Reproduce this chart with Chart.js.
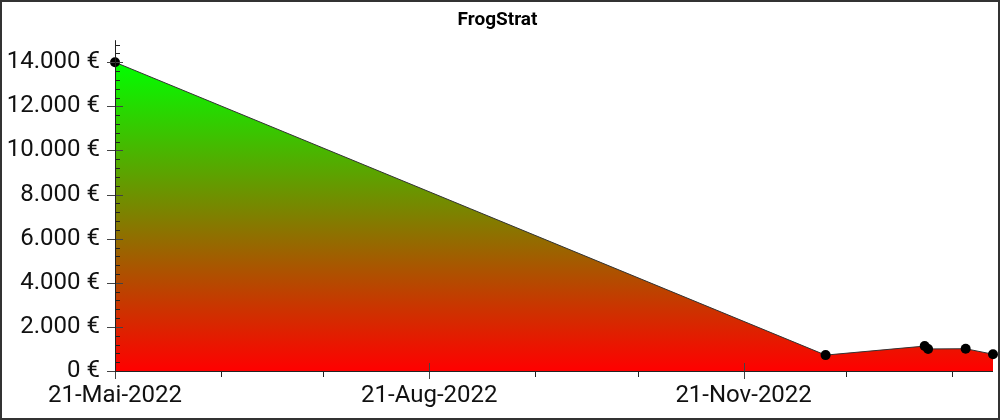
<!DOCTYPE html>
<html>
<head>
<meta charset="utf-8">
<script src="https://cdn.jsdelivr.net/npm/chart.js@4/dist/chart.umd.min.js"></script>
<style>
html, body { margin: 0; padding: 0; background: #fff; }
#wrap { width: 1000px; height: 420px; box-sizing: border-box; border: 2px solid #333; position: relative; }
</style>
</head>
<body>
<div id="wrap"><canvas id="chart"></canvas></div>
<script>
// data
const startDate = '2022-05-21';
const pointDates = ['2022-05-21', '2022-12-15', '2023-01-13', '2023-01-14', '2023-01-25', '2023-02-02'];
const pointValues = [14000, 720, 1130, 1000, 1010, 760];

// x axis ticks
const majorTickDates = ['2022-05-21', '2022-08-21', '2022-11-21'];
const majorTickLabels = ['21-Mai-2022', '21-Aug-2022', '21-Nov-2022'];
const minorTickDates = ['2022-06-21', '2022-07-21', '2022-09-21', '2022-10-21', '2022-12-21', '2023-01-21'];

// y axis ticks
const yMajorTicks = [0, 2000, 4000, 6000, 8000, 10000, 12000, 14000];
const yMax = 15000;
const yMinorStep = 400;

// helpers
const dayOf = d => (Date.parse(d) - Date.parse(startDate)) / 86400000;
const euro = v => String(v).replace(/\B(?=(\d{3})+(?!\d))/g, '.') + ' €';

const points = pointDates.map((d, i) => ({ x: dayOf(d), y: pointValues[i] }));

// axis lines and tick marks, drawn over the fill
const axisTicks = {
  id: 'axisTicks',
  afterDatasetsDraw(chart) {
    const { ctx, chartArea: a, scales: { x, y } } = chart;
    ctx.save();
    ctx.lineWidth = 1;

    // minor ticks
    ctx.strokeStyle = '#222';
    ctx.beginPath();
    for (let v = yMinorStep; v < yMax; v += yMinorStep) {
      if (yMajorTicks.includes(v)) continue;
      const py = Math.round(y.getPixelForValue(v)) + 0.5;
      ctx.moveTo(a.left, py);
      ctx.lineTo(a.left + 5, py);
    }
    minorTickDates.forEach(d => {
      const px = Math.round(x.getPixelForValue(dayOf(d))) + 0.5;
      ctx.moveTo(px, a.bottom + 1);
      ctx.lineTo(px, a.bottom + 6);
    });
    ctx.stroke();

    // major ticks
    ctx.strokeStyle = '#444';
    ctx.beginPath();
    yMajorTicks.forEach(v => {
      const py = Math.round(y.getPixelForValue(v)) + 0.5;
      ctx.moveTo(a.left - 8, py);
      ctx.lineTo(a.left + 8, py);
    });
    majorTickDates.forEach(d => {
      const px = Math.round(x.getPixelForValue(dayOf(d))) + 0.5;
      ctx.moveTo(px, a.bottom - 8);
      ctx.lineTo(px, a.bottom + 8);
    });
    ctx.stroke();

    // axis lines
    ctx.strokeStyle = '#222';
    ctx.beginPath();
    ctx.moveTo(a.left + 0.5, y.getPixelForValue(yMax));
    ctx.lineTo(a.left + 0.5, a.bottom);
    ctx.moveTo(a.left, a.bottom + 0.5);
    ctx.lineTo(a.right, a.bottom + 0.5);
    ctx.stroke();
    ctx.restore();
  }
};

Chart.defaults.font.family = 'Roboto';

new Chart(document.getElementById('chart'), {
  type: 'line',
  data: {
    datasets: [{
      data: points,
      borderColor: '#333',
      borderWidth: 1,
      tension: 0,
      pointRadius: 5,
      pointBorderWidth: 0,
      pointBackgroundColor: '#000',
      clip: false,
      fill: 'origin',
      backgroundColor: ctx => {
        const chart = ctx.chart;
        if (!chart.chartArea) return 'rgba(0,0,0,0)';
        const y = chart.scales.y;
        const g = chart.ctx.createLinearGradient(0, y.getPixelForValue(Math.max(...pointValues)), 0, y.getPixelForValue(0));
        g.addColorStop(0, '#00ff00');
        g.addColorStop(1, '#ff0000');
        return g;
      }
    }]
  },
  options: {
    responsive: true,
    maintainAspectRatio: false,
    animation: false,
    layout: { padding: { left: 0, right: 5, top: 0, bottom: 0 } },
    plugins: {
      legend: { display: false },
      tooltip: { enabled: false },
      title: {
        display: true,
        text: 'FrogStrat',
        color: '#000',
        font: { family: 'Roboto', size: 19, weight: 'bold' },
        padding: { top: 7, bottom: 8.4 }
      }
    },
    scales: {
      x: {
        type: 'linear',
        min: 0,
        max: dayOf(pointDates[pointDates.length - 1]),
        grid: { display: false, drawTicks: false },
        border: { display: false },
        afterBuildTicks: s => { s.ticks = majorTickDates.map(d => ({ value: dayOf(d) })); },
        afterFit: s => { s.height = 47; },
        ticks: {
          autoSkip: false,
          maxRotation: 0,
          padding: 11,
          color: '#111',
          font: { size: 24 },
          callback: v => majorTickLabels[majorTickDates.findIndex(d => dayOf(d) === v)]
        }
      },
      y: {
        min: 0,
        max: yMax,
        grid: { display: false, drawTicks: false },
        border: { display: false },
        afterBuildTicks: s => { s.ticks = yMajorTicks.map(v => ({ value: v })); },
        afterFit: s => { s.width = 113; },
        ticks: {
          padding: 15,
          color: '#111',
          font: { size: 24 },
          callback: v => euro(v)
        }
      }
    }
  },
  plugins: [axisTicks]
});
</script>
</body>
</html>
